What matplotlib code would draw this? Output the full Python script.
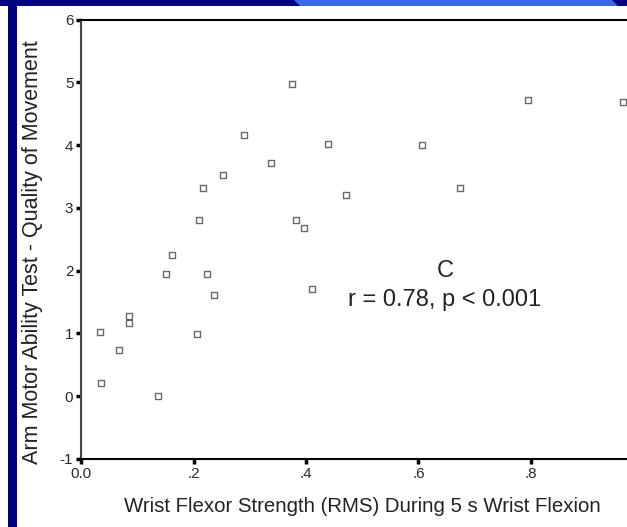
import matplotlib
matplotlib.use("Agg")
import matplotlib.pyplot as plt
from matplotlib.patches import Polygon, Rectangle

plt.rcParams['font.family'] = ['Liberation Sans', 'DejaVu Sans']
plt.rcParams['axes.unicode_minus'] = False

# Data
strength = [0.034, 0.036, 0.068, 0.085, 0.085, 0.136, 0.151, 0.162, 0.206, 0.209,
            0.217, 0.224, 0.237, 0.252, 0.289, 0.337, 0.375, 0.382, 0.396, 0.411,
            0.440, 0.471, 0.606, 0.674, 0.794, 0.964]
ability = [1.03, 0.21, 0.74, 1.28, 1.17, 0.00, 1.94, 2.25, 0.99, 2.81,
           3.32, 1.94, 1.61, 3.53, 4.16, 3.71, 4.97, 2.81, 2.68, 1.71,
           4.02, 3.21, 4.00, 3.32, 4.72, 4.68]
xticks = [0.0, 0.2, 0.4, 0.6, 0.8]
xticklabels = ['0.0', '.2', '.4', '.6', '.8']
yticks = [-1, 0, 1, 2, 3, 4, 5, 6]

W, H = 627, 527
fig = plt.figure(figsize=(W / 100, H / 100), dpi=100)
fig.patch.set_facecolor('white')

# axes placement (pixel based)
x0px, y0px = 81, 459
unit_x = 562.5
top_px = 19.5
ax = fig.add_axes([x0px / W, (H - y0px) / H, unit_x / W, (y0px - top_px) / H])
ax.set_xlim(0, 1.0)
ax.set_ylim(-1, 6)

ax.scatter(strength, ability, marker='s', s=22, facecolors='white',
           edgecolors='#6a6a6a', linewidths=1.0, zorder=3)

ax.spines['right'].set_visible(False)
ax.spines['left'].set_color('#444444')
ax.spines['left'].set_linewidth(1.5)
ax.spines['bottom'].set_color('black')
ax.spines['bottom'].set_linewidth(1.5)
ax.spines['top'].set_color('black')
ax.spines['top'].set_linewidth(1.5)

ax.set_xticks(xticks)
ax.set_xticklabels(xticklabels)
ax.set_yticks(yticks)
ax.tick_params(axis='both', direction='out', length=3.5, width=2.5, color='black',
               labelsize=11, labelcolor='#2a2a2a', pad=2)

ax.text(0.647, 2.0, 'C', ha='center', va='center', fontsize=17, color='#222222')
ax.text(0.647, 1.53, 'r = 0.78, p < 0.001', ha='center', va='center', fontsize=17,
        color='#222222')

fig.text(362 / W, 1 - 507 / H, 'Wrist Flexor Strength (RMS) During 5 s Wrist Flexion',
         ha='center', va='center', fontsize=14.7, color='#222222')
fig.text(33 / W, 1 - 252 / H, 'Arm Motor Ability Test - Quality of Movement',
         ha='center', va='center', rotation=90, fontsize=15.5, color='#222222')

# slide decorations
navy = '#000080'
fig.patches.append(Rectangle((8 / W, 0), 9 / W, 1, transform=fig.transFigure,
                             facecolor=navy, edgecolor='none'))
fig.patches.append(Rectangle((0, 1 - 6 / H), 1, 6 / H, transform=fig.transFigure,
                             facecolor=navy, edgecolor='none'))
fig.patches.append(Polygon([(294 / W, 1), (612 / W, 1), (618 / W, 1 - 6 / H), (300 / W, 1 - 6 / H)],
                           closed=True, transform=fig.transFigure,
                           facecolor='#3a66e8', edgecolor='none'))

fig.savefig('out.png', dpi=100)
